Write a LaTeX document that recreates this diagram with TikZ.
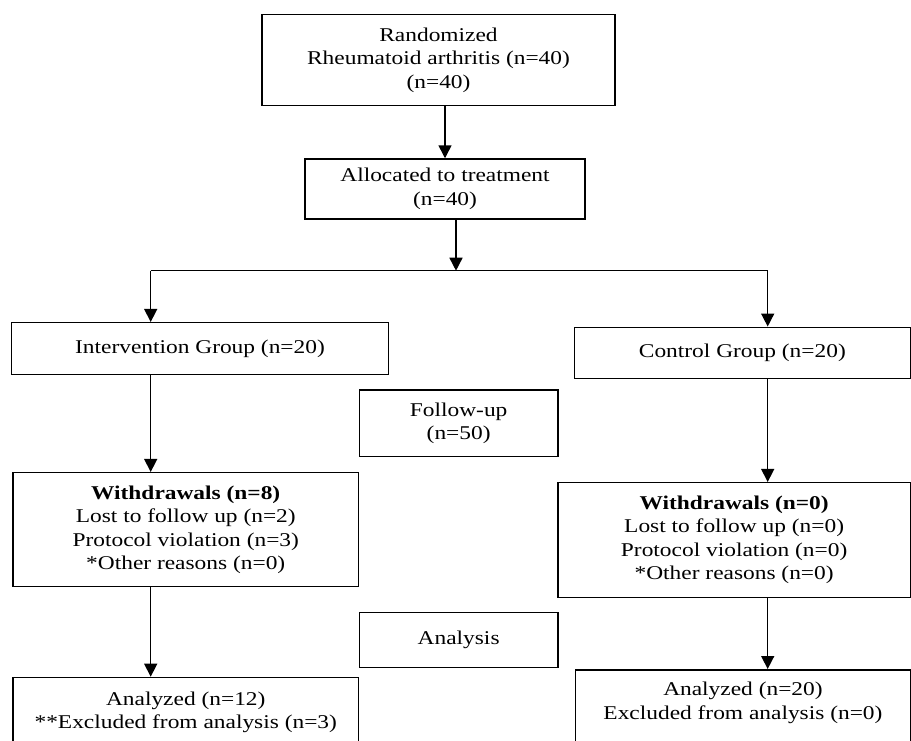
\documentclass[tikz,border=0pt]{standalone}
\usepackage{fontspec}
\setmainfont[FakeStretch=1.2]{Liberation Serif}
\usepackage{tikz}
\usetikzlibrary{arrows.meta}
\usetikzlibrary{positioning}
\tikzset{
    stage/.style={
        draw,
        rectangle,
        line width=1.5pt,
        align=center,
        inner sep=0pt,
        font=\fontsize{19.5}{23.5}\selectfont
    },
    flow/.style={
        draw,
        -{Triangle[length=13pt, width=13pt]},
        line width=1.5pt
    }
}

\begin{document}
\begin{tikzpicture}[x=1pt, y=-1pt]
  \useasboundingbox (0,0) rectangle (911,740);
  \clip (0,0) rectangle (911,740);

  % Top of the chart
  \node[stage, minimum width=353pt, minimum height=91.4pt] (rand) at (438.5,60)
    {Randomized\\Rheumatoid arthritis (n=40)\\(n=40)};
  \node[stage, minimum width=280pt, minimum height=60pt] (alloc) at (445,189)
    {Allocated to treatment\\(n=40)};

  % The two arms
  \node[stage, minimum width=376.8pt, minimum height=51.6pt] (interv) at (200,348.5)
    {Intervention Group (n=20)};
  \node[stage, minimum width=335.9pt, minimum height=51pt] (ctrl) at (742.35,352.8)
    {Control Group (n=20)};

  % Stage labels in the middle
  \node[stage, minimum width=198.7pt, minimum height=66.7pt] (follow) at (458.65,423.35)
    {Follow-up\\(n=50)};
  \node[stage, minimum width=198.7pt, minimum height=55pt] (analysis) at (458.65,640.2)
    {Analysis};

  % Withdrawals
  \node[stage, minimum width=345.9pt, minimum height=114pt] (wdl) at (185.75,529.7)
    {\textbf{Withdrawals (n=8)}\\Lost to follow up (n=2)\\Protocol violation (n=3)\\*Other reasons (n=0)};
  \node[stage, minimum width=352.3pt, minimum height=114.6pt] (wdr) at (734.15,540)
    {\textbf{Withdrawals (n=0)}\\Lost to follow up (n=0)\\Protocol violation (n=0)\\*Other reasons (n=0)};

  % Analyzed (cut by the lower edge)
  \node[stage, anchor=north, minimum width=345.9pt, text height=51.5pt, text depth=40pt] (anl) at (185.75,676.7)
    {Analyzed (n=12)\\**Excluded from analysis (n=3)};
  \node[stage, anchor=north, minimum width=334.7pt, text height=49.5pt, text depth=40pt] (anr) at (742.95,669)
    {Analyzed (n=20)\\Excluded from analysis (n=0)};

  % Connect boxes
  \coordinate (split) at (456,270.7);
  \coordinate (lft) at (150.7,270.7);
  \coordinate (rgt) at (767.7,270.7);
  \draw[flow] (alloc.north |- rand.south) -- (alloc.north);
  \draw[flow] (alloc.south -| split) -- (split);
  \draw[line width=1.5pt] (lft) -- (rgt);
  \draw[flow] (lft) -- (lft |- interv.north);
  \draw[flow] (rgt) -- (rgt |- ctrl.north);
  \foreach \a/\b in {interv/wdl, wdl/anl} {
    \draw[flow] (lft |- \a.south) -- (lft |- \b.north);
  }
  \foreach \a/\b in {ctrl/wdr, wdr/anr} {
    \draw[flow] (rgt |- \a.south) -- (rgt |- \b.north);
  }
\end{tikzpicture}
\end{document}
